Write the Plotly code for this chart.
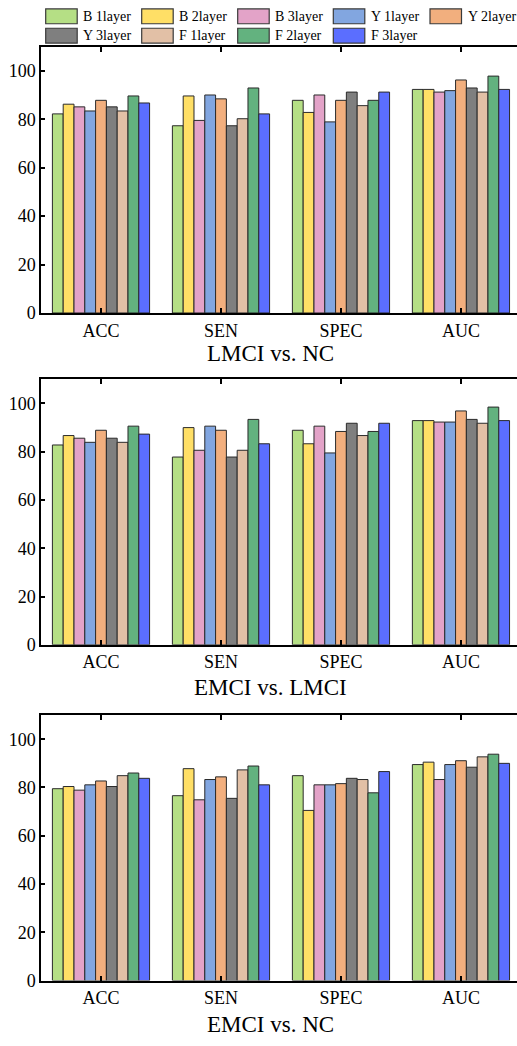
import plotly.graph_objects as go

categories = ["ACC", "SEN", "SPEC", "AUC"]
series_names = ["B 1layer", "B 2layer", "B 3layer", "Y 1layer", "Y 2layer",
                "Y 3layer", "F 1layer", "F 2layer", "F 3layer"]
colors = ["#B5DF85", "#FFDF66", "#E3A3C8", "#82A6E0", "#F2AF7E",
          "#7F7F7F", "#E2C0A6", "#63B27F", "#5B6EFF"]
panel_titles = ["LMCI vs. NC", "EMCI vs. LMCI", "EMCI vs. NC"]

# values per series: [ACC, SEN, SPEC, AUC]
lmci_nc = [
    [82.2, 77.3, 87.8, 92.3],
    [86.2, 89.6, 82.8, 92.3],
    [85.1, 79.5, 90.0, 91.2],
    [83.4, 90.0, 78.9, 91.8],
    [87.8, 88.4, 87.8, 96.2],
    [85.1, 77.3, 91.2, 92.9],
    [83.4, 80.2, 85.6, 91.2],
    [89.6, 92.9, 87.8, 97.8],
    [86.7, 82.2, 91.2, 92.3],
]
emci_lmci = [
    [82.8, 77.8, 88.9, 92.9],
    [86.7, 90.0, 83.3, 92.9],
    [85.6, 80.6, 90.6, 92.3],
    [83.9, 90.6, 79.5, 92.3],
    [88.9, 88.9, 88.4, 96.9],
    [85.6, 77.8, 91.8, 93.4],
    [83.9, 80.6, 86.7, 91.8],
    [90.6, 93.4, 88.4, 98.5],
    [87.3, 83.3, 91.8, 92.9],
]
emci_nc = [
    [79.5, 76.6, 84.9, 89.5],
    [80.4, 87.8, 70.5, 90.5],
    [78.9, 74.9, 81.1, 83.3],
    [81.1, 83.3, 81.1, 89.5],
    [82.7, 84.4, 81.6, 91.1],
    [80.4, 75.5, 83.8, 88.4],
    [84.9, 87.3, 83.3, 92.7],
    [86.0, 88.9, 77.8, 93.8],
    [83.8, 81.1, 86.6, 90.0],
]
y_ticks = [0, 20, 40, 60, 80, 100]

W, H = 517, 1046
FONT = "Liberation Serif, Times New Roman, serif"

panels = [lmci_nc, emci_lmci, emci_nc]
# pixel extents of plot areas (top, bottom)
py = [(47, 316), (383, 651), (722, 990)]
x_left_px = 41

fig = go.Figure()
layout = dict(
    width=W, height=H,
    margin=dict(l=0, r=0, t=0, b=0),
    paper_bgcolor="white", plot_bgcolor="white",
    barmode="group", bargap=0.19, bargroupgap=0.0,
    showlegend=False,
    font=dict(family=FONT, size=18, color="black"),
)

for p, data in enumerate(panels):
    ax = "" if p == 0 else str(p + 1)
    for i, name in enumerate(series_names):
        fig.add_trace(go.Bar(
            x=categories, y=data[i], name=name,
            marker=dict(color=colors[i], line=dict(color="#2a2a2a", width=1)),
            xaxis="x" + ax, yaxis="y" + ax, showlegend=False,
        ))
    top, bot = py[p]
    layout["xaxis" + ax] = dict(
        domain=[x_left_px / W, 1.0], anchor="y" + ax,
        type="category", range=[-0.5, 3.467],
        showline=True, linecolor="black", linewidth=2, mirror="ticks",
        ticks="inside", ticklen=5, tickwidth=1.5, tickcolor="black",
        showgrid=False, zeroline=False,
        tickfont=dict(family=FONT, size=18, color="black"),
    )
    layout["yaxis" + ax] = dict(
        domain=[1 - bot / H, 1 - top / H], anchor="x" + ax,
        range=[0, 110], tickvals=y_ticks,
        showline=True, linecolor="black", linewidth=1.5,
        ticks="inside", ticklen=4, tickwidth=1.5, tickcolor="black",
        showgrid=False, zeroline=False,
        tickfont=dict(family=FONT, size=18, color="black"),
    )

annotations = []
title_y_px = [357, 694, 1034]
for p, t in enumerate(panel_titles):
    annotations.append(dict(
        text=t, x=270 / W, y=1 - title_y_px[p] / H, xref="paper", yref="paper",
        xanchor="center", yanchor="middle", showarrow=False,
        font=dict(family=FONT, size=23, color="black"),
    ))

# custom legend (large swatches)
shapes = []
col_x = [45.7, 141.7, 237.7, 333.3, 430.0]
row_y = [(9, 24), (28.5, 43.5)]
for i, name in enumerate(series_names):
    r, c = divmod(i, 5)
    x0 = col_x[c]
    x1 = x0 + 31.5
    y0, y1 = row_y[r]
    shapes.append(dict(
        type="rect", xref="paper", yref="paper",
        x0=x0 / W, x1=x1 / W, y0=1 - y1 / H, y1=1 - y0 / H,
        fillcolor=colors[i], line=dict(color="#3a3a3a", width=1.2),
    ))
    annotations.append(dict(
        text=name, x=(x1 + 4) / W, y=1 - (y0 + y1) / 2 / H,
        xref="paper", yref="paper", xanchor="left", yanchor="middle",
        showarrow=False, font=dict(family=FONT, size=14, color="black"),
    ))

layout["annotations"] = annotations
layout["shapes"] = shapes
fig.update_layout(**layout)
fig.write_html("out.html")
